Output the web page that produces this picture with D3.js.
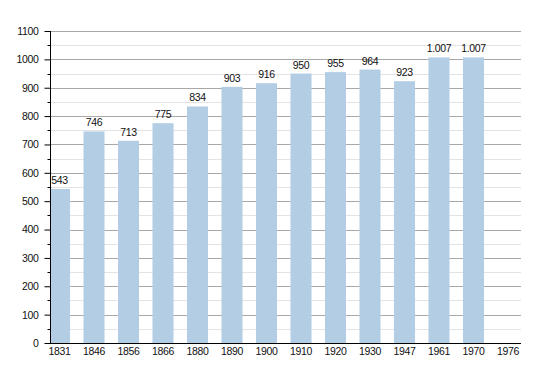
<!DOCTYPE html>
<html><head><meta charset="utf-8">
<script src="https://cdn.jsdelivr.net/npm/d3@7"></script>
<style>body{margin:0;background:#fff}svg{display:block}text{font-family:"Liberation Sans",Arial,sans-serif}</style>
</head><body><svg id="c" width="550" height="373"></svg>
<script>
const years = ["1831","1846","1856","1866","1880","1890","1900","1910","1920","1930","1947","1961","1970","1976"];
const population = [543,746,713,775,834,903,916,950,955,964,923,1007,1007,null];
const labels = ["543","746","713","775","834","903","916","950","955","964","923","1.007","1.007",""];
const yTicks = [0,100,200,300,400,500,600,700,800,900,1000,1100];
const minorTicks = [50,150,250,350,450,550,650,750,850,950,1050];

(function(){
const svg = d3.select("#c");
const pL = 50, pR = 521, pT = 31, pB = 343;
const fs = 10.5, ls = "-0.35px";
const y = d3.scaleLinear().domain([0,1100]).range([pB, pT]);
const x = d3.scaleBand().domain(years).range([42.25, 525.25]).paddingInner(0.39).paddingOuter(0.195);

svg.append("g").selectAll("line").data(minorTicks).join("line")
  .attr("x1", pL).attr("x2", pR).attr("y1", d=>Math.round(y(d))+0.5).attr("y2", d=>Math.round(y(d))+0.5)
  .attr("stroke", "#e3e3e3").attr("stroke-width", 1);
svg.append("g").selectAll("line").data(yTicks.filter(d=>d>0)).join("line")
  .attr("x1", pL).attr("x2", pR).attr("y1", d=>Math.round(y(d))+0.5).attr("y2", d=>Math.round(y(d))+0.5)
  .attr("stroke", "#a8a8a8").attr("stroke-width", 1);

svg.append("clipPath").attr("id","pc").append("rect")
  .attr("x", pL+1).attr("y", 0).attr("width", pR-pL).attr("height", pB);
const data = years.map((yr,i)=>({yr, v: population[i], l: labels[i]})).filter(d=>d.v!=null);
svg.append("g").attr("clip-path","url(#pc)").selectAll("rect").data(data).join("rect")
  .attr("x", d=>x(d.yr)).attr("width", x.bandwidth())
  .attr("y", d=>y(d.v)).attr("height", d=>pB - y(d.v))
  .attr("fill", "#b3cde4");

svg.append("g").selectAll("text").data(data).join("text")
  .attr("x", d=>x(d.yr)+x.bandwidth()/2).attr("y", d=>y(d.v)-5)
  .attr("text-anchor","middle").attr("font-size", fs).attr("letter-spacing", ls).attr("fill","#111")
  .text(d=>d.l);

const yAxis = d3.axisLeft(y).tickValues(yTicks).tickSize(6).tickPadding(6).tickFormat(d3.format("d"));
const gy = svg.append("g").attr("transform", `translate(${pL+0.5},0)`).call(yAxis);
gy.select(".domain").attr("stroke","#000").attr("d", `M0,${pT}V${pB}`);
gy.selectAll(".tick line").attr("stroke","#000");
gy.selectAll(".tick text").attr("font-size", fs).attr("letter-spacing", ls).attr("fill","#111").attr("font-family","Liberation Sans, Arial, sans-serif");
gy.append("g").selectAll("line").data(minorTicks).join("line")
  .attr("x1",-3).attr("x2",0).attr("y1",d=>Math.round(y(d))+0.5).attr("y2",d=>Math.round(y(d))+0.5).attr("stroke","#000");

const xAxis = d3.axisBottom(x).tickSize(0).tickPadding(4);
const gx = svg.append("g").attr("transform", `translate(0,${pB+0.5})`).call(xAxis);
gx.select(".domain").attr("stroke","#000").attr("d", `M${pL},0H${pR}`);
gx.selectAll(".tick text").attr("font-size", fs).attr("letter-spacing", ls).attr("fill","#111").attr("font-family","Liberation Sans, Arial, sans-serif");
})();
</script></body></html>
